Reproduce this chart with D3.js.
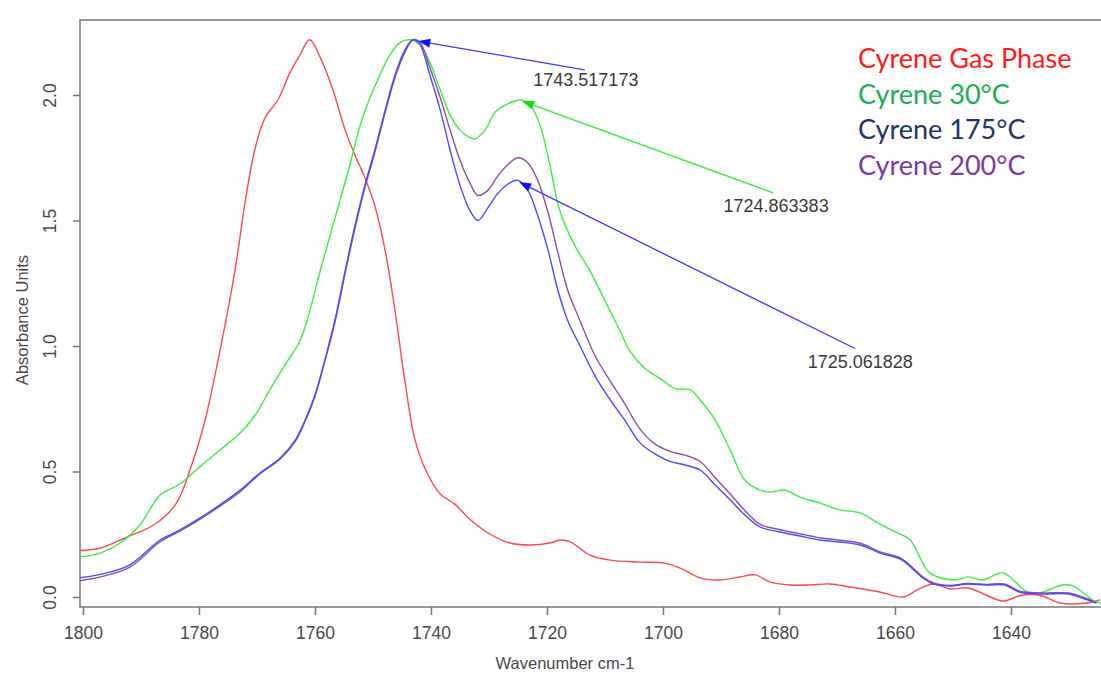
<!DOCTYPE html>
<html>
<head>
<meta charset="utf-8">
<script src="https://cdn.jsdelivr.net/npm/d3@7"></script>
<style>
  body { margin: 0; background: #fff; }
  svg { display: block; }
</style>
</head>
<body>
<script>
// [wavenumber, absorbance]
var gasPhase = [
  [1800.5,0.185],[1797,0.195],[1792,0.243],[1787.6,0.29],[1784,0.37],[1781.5,0.51],[1779,0.70],
  [1776.4,0.98],[1773.8,1.30],[1772,1.58],[1770.3,1.79],[1768.6,1.91],[1766.4,1.98],[1764.3,2.09],
  [1762.6,2.16],[1760.9,2.22],[1759.1,2.15],[1756.9,2.02],[1754.8,1.86],[1753.1,1.76],[1751.4,1.67],
  [1749.7,1.56],[1747.9,1.38],[1746.2,1.14],[1744.5,0.86],[1742.8,0.63],[1741,0.51],[1738.4,0.41],
  [1735.9,0.37],[1733.3,0.31],[1729.8,0.25],[1726.4,0.215],[1722.9,0.207],[1719.5,0.215],[1717.8,0.227],
  [1716,0.22],[1712.6,0.167],[1709.1,0.147],[1704,0.139],[1699.7,0.135],[1697,0.115],[1693.6,0.076],
  [1690.2,0.068],[1686.7,0.08],[1684.1,0.088],[1681.6,0.06],[1678.1,0.048],[1674.7,0.048],[1671.2,0.052],
  [1667.8,0.04],[1662.6,0.02],[1658.6,0.0],[1656,0.03],[1653.4,0.052],[1650.5,0.032],[1647.4,0.036],
  [1644.5,0.01],[1641.4,-0.016],[1638,0.008],[1634.6,0.004],[1631.6,-0.024],[1627,-0.024],[1624.7,-0.012]
];

var cyrene30 = [
  [1800.5,0.16],[1797,0.175],[1793.6,0.215],[1790.2,0.287],[1786.7,0.406],[1783.3,0.45],[1779.8,0.52],
  [1776.4,0.585],[1772.9,0.653],[1770.3,0.725],[1767.8,0.825],[1765.2,0.924],[1762.6,1.02],[1760.9,1.14],
  [1759.1,1.30],[1757.4,1.44],[1755.7,1.58],[1754,1.72],[1752.2,1.88],[1750.5,1.99],[1748.8,2.08],
  [1747.1,2.16],[1745.3,2.21],[1743.6,2.22],[1741.9,2.20],[1740.2,2.13],[1738.4,2.02],[1736.7,1.92],
  [1735,1.86],[1733.3,1.83],[1732.4,1.825],[1730.7,1.86],[1729,1.93],[1727.2,1.96],[1725.5,1.976],
  [1724.3,1.98],[1722.9,1.96],[1721.2,1.88],[1719.5,1.72],[1717.8,1.54],[1715.2,1.40],[1712.6,1.30],
  [1710,1.18],[1707.4,1.06],[1705.7,0.98],[1703.1,0.91],[1700.5,0.87],[1697.9,0.83],[1695.3,0.825],
  [1693.6,0.785],[1691,0.705],[1688.4,0.585],[1685.9,0.466],[1683.3,0.426],[1681.6,0.418],[1679,0.426],
  [1676.4,0.398],[1673,0.375],[1669.5,0.347],[1666,0.335],[1662.6,0.29],[1660,0.26],[1657.4,0.227],
  [1654,0.096],[1649.7,0.068],[1647.4,0.08],[1644.8,0.068],[1641.4,0.096],[1637.2,0.02],[1635,0.016],
  [1631.2,0.048],[1629.3,0.044],[1625.9,-0.012],[1624.5,-0.025]
];

var cyrene175 = [
  [1800.5,0.077],[1797,0.09],[1792,0.127],[1786.7,0.227],[1783.3,0.267],[1779.8,0.315],[1776.4,0.367],
  [1772.9,0.426],[1769.5,0.494],[1766,0.554],[1763.4,0.625],[1761.7,0.705],[1760,0.805],[1758.3,0.944],
  [1756.6,1.10],[1754.8,1.30],[1753.1,1.48],[1751.4,1.64],[1749.7,1.78],[1747.9,1.94],[1746.2,2.08],
  [1744.5,2.18],[1743.1,2.22],[1741.9,2.20],[1740.2,2.08],[1738.4,1.94],[1736.7,1.78],[1735,1.64],
  [1733.3,1.54],[1731.9,1.50],[1730.2,1.55],[1728.4,1.61],[1726.4,1.65],[1725,1.66],[1723.3,1.62],
  [1721.6,1.52],[1719.8,1.38],[1718.1,1.22],[1716.4,1.10],[1714.3,1.00],[1711.7,0.88],[1709.1,0.785],
  [1706.6,0.705],[1704,0.615],[1701.4,0.57],[1698.8,0.54],[1696.2,0.526],[1693.6,0.506],[1691,0.446],
  [1688.4,0.386],[1685.9,0.327],[1683.3,0.279],[1679.8,0.259],[1676.4,0.243],[1673,0.227],[1669.5,0.219],
  [1666,0.207],[1662.6,0.175],[1659,0.15],[1655.2,0.076],[1653.4,0.052],[1650.5,0.044],[1647.6,0.052],
  [1644.2,0.048],[1641.1,0.048],[1638.6,0.02],[1635,0.012],[1630,0.012],[1627.7,-0.004],[1625.3,-0.024]
];

var cyrene200 = [
  [1800.5,0.065],[1797,0.08],[1792,0.118],[1786.7,0.22],[1783.3,0.262],[1779.8,0.31],[1776.4,0.362],
  [1772.9,0.42],[1769.5,0.49],[1766,0.55],[1763.4,0.62],[1761.7,0.70],[1760,0.80],[1758.3,0.94],
  [1756.6,1.09],[1754.8,1.29],[1753.1,1.47],[1751.4,1.63],[1749.7,1.77],[1747.9,1.93],[1746.2,2.07],
  [1744.5,2.17],[1743.1,2.22],[1741.9,2.21],[1740.2,2.11],[1738.4,1.99],[1736.7,1.86],[1735,1.74],
  [1733.3,1.65],[1731.9,1.60],[1730.2,1.62],[1728.4,1.68],[1726.4,1.73],[1725,1.75],[1723.3,1.73],
  [1721.6,1.66],[1719.8,1.53],[1718.1,1.37],[1716.4,1.22],[1714.3,1.10],[1711.7,0.96],[1709.1,0.86],
  [1706.6,0.77],[1704,0.67],[1701.4,0.61],[1698.8,0.58],[1696.2,0.565],[1693.6,0.54],[1691,0.475],
  [1688.4,0.41],[1685.9,0.345],[1683.3,0.29],[1679.8,0.268],[1676.4,0.252],[1673,0.236],[1669.5,0.226],
  [1666,0.214],[1662.6,0.18],[1659,0.155],[1655.2,0.08],[1653.4,0.056],[1650.5,0.046],[1647.6,0.054],
  [1644.2,0.05],[1641.1,0.052],[1638.6,0.024],[1635,0.016],[1630,0.016],[1627.7,0.0],[1625.3,-0.022]
];

var xTicks = [1800, 1780, 1760, 1740, 1720, 1700, 1680, 1660, 1640];
var yTicks = [0.0, 0.5, 1.0, 1.5, 2.0];

var legendLabels = ["Cyrene Gas Phase", "Cyrene 30\u00b0C", "Cyrene 175\u00b0C", "Cyrene 200\u00b0C"];
var legendColors = ["#ff1a1a", "#19b04f", "#1f3566", "#7a3aa8"];

// peak annotations: label position, arrow tip
var peakLabels = ["1743.517173", "1724.863383", "1725.061828"];
var labelPos = [[1713.3, 2.061], [1680.5, 1.56], [1666, 0.936]];
var arrowFrom = [[1713.5, 2.10], [1681, 1.61], [1666.9, 0.99]];
var arrowTip = [[1742.2, 2.215], [1724.3, 1.976], [1724.8, 1.653]];
var arrowColors = ["#3a3aff", "#33ee33", "#3a3aff"];

var width = 1101, height = 675;
var box = {left: 80, top: 20, right: 1106, bottom: 607};

var x = d3.scaleLinear().domain([1800, 1640]).range([83, 1011]);
var y = d3.scaleLinear().domain([0, 2]).range([597, 95]);

var svg = d3.select("body").append("svg")
  .attr("width", width)
  .attr("height", height);

svg.append("clipPath").attr("id", "plot")
  .append("rect")
  .attr("x", box.left).attr("y", box.top)
  .attr("width", box.right - box.left).attr("height", box.bottom - box.top);

var axisColor = "#777";
var textFont = "Liberation Sans, Arial, sans-serif";

// x axis
var gx = svg.append("g")
  .attr("transform", "translate(0," + box.bottom + ")")
  .call(d3.axisBottom(x).tickValues(xTicks).tickSize(8).tickPadding(12).tickFormat(d3.format("d")));
gx.select(".domain").remove();
gx.selectAll("line").attr("stroke", axisColor).attr("stroke-width", 1.5);
gx.selectAll("text")
  .attr("fill", "#484848")
  .style("font-family", textFont)
  .style("font-size", "17.5px");

// y axis
var gy = svg.append("g")
  .attr("transform", "translate(" + box.left + ",0)")
  .call(d3.axisLeft(y).tickValues(yTicks).tickSize(7).tickFormat(d3.format(".1f")));
gy.select(".domain").remove();
gy.selectAll("line").attr("stroke", axisColor).attr("stroke-width", 1.5);
gy.selectAll("text")
  .attr("x", null).attr("dy", null)
  .attr("text-anchor", "middle")
  .attr("transform", "translate(-24,0) rotate(-90)")
  .attr("fill", "#484848")
  .style("font-family", textFont)
  .style("font-size", "17.5px");

// frame
svg.append("path")
  .attr("d", "M" + box.right + "," + box.top + "H" + box.left + "V" + box.bottom + "H" + box.right)
  .attr("fill", "none")
  .attr("stroke", axisColor)
  .attr("stroke-width", 1.5);

// axis titles
svg.append("text")
  .attr("transform", "translate(28,320) rotate(-90)")
  .attr("text-anchor", "middle")
  .attr("fill", "#484848")
  .style("font-family", textFont)
  .style("font-size", "16.5px")
  .text("Absorbance Units");

svg.append("text")
  .attr("x", 565).attr("y", 669)
  .attr("text-anchor", "middle")
  .attr("fill", "#484848")
  .style("font-family", textFont)
  .style("font-size", "16.5px")
  .text("Wavenumber cm-1");

// spectra
var line = d3.line()
  .x(function(d) { return x(d[0]); })
  .y(function(d) { return y(d[1]); })
  .curve(d3.curveCatmullRom.alpha(0.5));

var plot = svg.append("g").attr("clip-path", "url(#plot)");

var series = [
  {data: gasPhase, color: "#ff4a4a"},
  {data: cyrene30, color: "#3cef3c"},
  {data: cyrene200, color: "#8f4f9f"},
  {data: cyrene175, color: "#4a4aff"}
];

series.forEach(function(s) {
  plot.append("path")
    .datum(s.data)
    .attr("fill", "none")
    .attr("stroke", s.color)
    .attr("stroke-width", 1.4)
    .attr("d", line);
});

// arrows
peakLabels.forEach(function(lab, i) {
  var x0 = x(arrowFrom[i][0]), y0 = y(arrowFrom[i][1]);
  var x1 = x(arrowTip[i][0]), y1 = y(arrowTip[i][1]);
  var ang = Math.atan2(y1 - y0, x1 - x0);
  var len = 12, half = 4.5;
  var bx = x1 - len * Math.cos(ang), by = y1 - len * Math.sin(ang);
  svg.append("line")
    .attr("x1", x0).attr("y1", y0).attr("x2", bx).attr("y2", by)
    .attr("stroke", arrowColors[i]).attr("stroke-width", 1.3);
  svg.append("polygon")
    .attr("points", [
      [x1, y1],
      [bx + half * Math.sin(ang), by - half * Math.cos(ang)],
      [bx - half * Math.sin(ang), by + half * Math.cos(ang)]
    ].map(function(p) { return p.join(","); }).join(" "))
    .attr("fill", i == 1 ? "#11dd11" : "#1010ff");

  svg.append("text")
    .attr("x", x(labelPos[i][0]))
    .attr("y", y(labelPos[i][1]))
    .attr("dy", "0.35em")
    .attr("text-anchor", "middle")
    .attr("fill", "#3a3a3a")
    .style("font-family", textFont)
    .style("font-size", "18px")
    .text(lab);
});

// legend
svg.selectAll(".legend")
  .data(legendLabels)
.enter().append("text")
  .attr("class", "legend")
  .attr("x", 858)
  .attr("y", function(d, i) { return 68 + i * 35.7; })
  .attr("fill", function(d, i) { return legendColors[i]; })
  .style("font-family", "Lato, 'Open Sans', sans-serif")
  .style("font-size", "27px")
  .text(function(d) { return d; });
</script>
</body>
</html>
